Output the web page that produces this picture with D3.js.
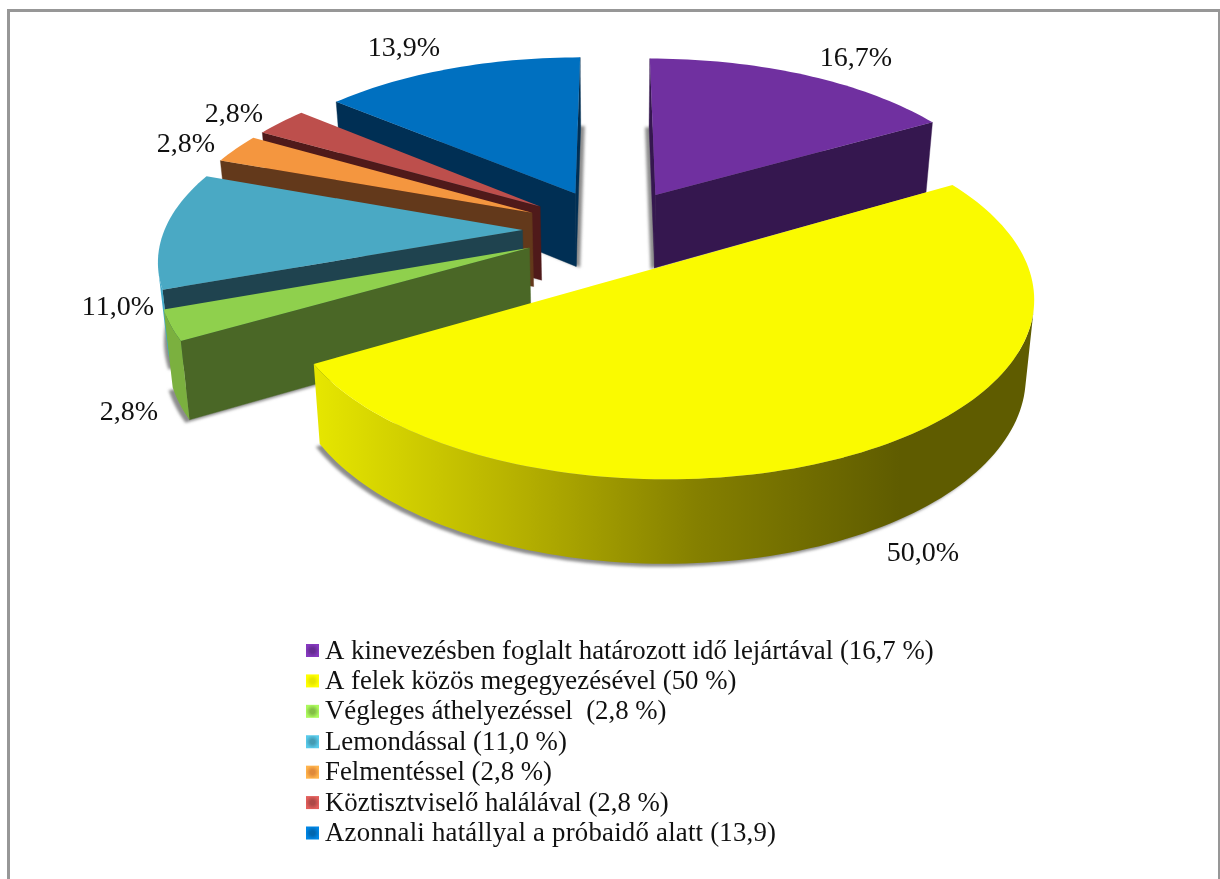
<!DOCTYPE html>
<html><head><meta charset="utf-8">
<script src="https://cdnjs.cloudflare.com/ajax/libs/d3/7.8.5/d3.min.js"></script>
<style>html,body{margin:0;padding:0;background:#fff;overflow:hidden}svg{display:block}
text{font-family:'Liberation Serif','Times New Roman',serif;fill:#111;font-kerning:none}</style>
</head><body><svg id="c" width="1220" height="879"></svg>
<script>
// ---- data ----
const categories = [
  "A kinevezésben foglalt határozott idő lejártával (16,7 %)",
  "A felek közös megegyezésével (50 %)",
  "Végleges áthelyezéssel  (2,8 %)",
  "Lemondással (11,0 %)",
  "Felmentéssel (2,8 %)",
  "Köztisztviselő halálával (2,8 %)",
  "Azonnali hatállyal a próbaidő alatt (13,9)"
];
const values = [16.7, 50, 2.8, 11.0, 2.8, 2.8, 13.9];
const valueLabels = ["16,7%", "50,0%", "2,8%", "11,0%", "2,8%", "2,8%", "13,9%"];
// ---- styles ----
const topColors  = ["#7030a0", "#fafa00", "#8fd04d", "#4aa9c4", "#f4963f", "#bd4f4c", "#0070c0"];
const wallColors = ["#35174f", "#787800", "#4a6726", "#1f434f", "#63391b", "#4f1a1a", "#002f54"];
const arcColors  = ["#35174f", "url(#yellowSide)", "#7bb03f", "#3fa9c9", "#c77a38", "#8f3b39", "#00558f"];
const drawOrder  = [6, 0, 5, 4, 3, 2, 1];
// ---- layout ----
const cx = 612, cy = 230, Rx = 358, Ry = 167;
const explode = 0.25, persp = 0.152;
const depthY = 74.5, depthScaleX = 0.98, depthScaleY = 1.04;
const labelAnchor = [[856,66],[923,561],[129,420],[118,315],[186,152],[234,122],[404,56]];
const shadowShift = [[-4,1],[-4,3],[-4,3],[-3,3],[0,0],[0,0],[4,1]];
const legendSpacing = [0,0,0,0,0,0,0.22];

const svg = d3.select("#c");
const defs = svg.append("defs");
const x = d3.scaleLinear().domain([-1,1]).range([cx-Rx,cx+Rx]);
const y = d3.scaleLinear().domain([-1,1]).range([cy-Ry,cy+Ry]);
const xb = d3.scaleLinear().domain([-1,1]).range([cx-Rx*depthScaleX,cx+Rx*depthScaleX]);
const yb = d3.scaleLinear().domain([-1,1]).range([cy+depthY-Ry*depthScaleY,cy+depthY+Ry*depthScaleY]);

const g1 = defs.append("linearGradient").attr("id","yellowSide").attr("gradientUnits","userSpaceOnUse")
  .attr("x1",316).attr("x2",900).attr("y1",0).attr("y2",0);
[[0,"#e6e600"],[0.35,"#b5b000"],[0.65,"#858000"],[1,"#5f5c00"]].forEach(s=>g1.append("stop").attr("offset",s[0]).attr("stop-color",s[1]));
defs.append("filter").attr("id","blur").attr("x","-10%").attr("y","-10%").attr("width","120%").attr("height","120%")
  .append("feGaussianBlur").attr("stdDeviation",1.8);
categories.forEach((c,i)=>{
  const g=defs.append("radialGradient").attr("id","mk"+i);
  g.append("stop").attr("offset","0.35").attr("stop-color",d3.color(topColors[i]).darker(0.25).formatHex());
  g.append("stop").attr("offset","1").attr("stop-color",d3.color(topColors[i]).brighter(0.5).formatHex());
});

// frame
svg.append("rect").attr("x",8.5).attr("y",10.5).attr("width",1211).attr("height",900)
  .attr("fill","#fff").attr("stroke","#979797").attr("stroke-width",3);

const pie = d3.pie().sort(null).startAngle(0).endAngle(2*Math.PI);
const arcs = pie(values);
const line = d3.line();

function pt(a, r, mid){
  const u = explode*Math.sin(mid) + r*Math.sin(a);
  const v = -explode*Math.cos(mid) - r*Math.cos(a);
  const w = 1 - persp*v;
  return {u:u/w, v:v/w};
}
const T = p=>[x(p.u),y(p.v)];
const B = p=>[xb(p.u),yb(p.v)];
const facing = q=>d3.polygonArea(q)>0;

function sliceGeom(d){
  const mid=(d.startAngle+d.endAngle)/2;
  const n=Math.max(4,Math.ceil((d.endAngle-d.startAngle)*40));
  const angles=d3.range(n+1).map(k=>d.startAngle+(d.endAngle-d.startAngle)*k/n);
  const rim=angles.map(a=>pt(a,1,mid));
  const apex=pt(0,0,mid);
  return {rim,apex};
}

const geoms=arcs.map(sliceGeom);
// shadows
const shadowG=svg.append("g").attr("filter","url(#blur)");
drawOrder.forEach(i=>{
  const {rim,apex}=geoms[i];
  shadowG.append("path").attr("d",line([apex,...rim].map(B))+"Z")
    .attr("transform",`translate(${shadowShift[i]})`).attr("fill","#8c8c8c");
});
// slices
drawOrder.forEach(i=>{
  const {rim,apex}=geoms[i];
  const g=svg.append("g");
  const cut=(a,b)=>{
    const q=[T(a),T(b),B(b),B(a)];
    if(facing(q)) g.append("path").attr("d",line(q)+"Z").attr("fill",wallColors[i]).attr("stroke",wallColors[i]).attr("stroke-width",0.4);
  };
  cut(apex,rim[0]);
  cut(rim[rim.length-1],apex);
  const vis=d3.range(rim.length-1).filter(k=>facing([T(rim[k]),T(rim[k+1]),B(rim[k+1]),B(rim[k])]));
  if(vis.length){
    const seg=rim.slice(vis[0],vis[vis.length-1]+2);
    g.append("path").attr("d",line([...seg.map(T),...seg.slice().reverse().map(B)])+"Z").attr("fill",arcColors[i]);
  }
  g.append("path").attr("d",line([apex,...rim].map(T))+"Z").attr("fill",topColors[i]);
});
// value labels
svg.append("g").selectAll("text").data(valueLabels).join("text")
  .attr("x",(d,i)=>labelAnchor[i][0]).attr("y",(d,i)=>labelAnchor[i][1])
  .attr("text-anchor","middle").attr("font-size",28).text(d=>d);
// legend
const row=d3.scaleLinear().domain([0,6]).range([650.5,833]);
const lg=svg.append("g");
lg.selectAll("rect").data(categories).join("rect")
  .attr("x",306).attr("y",(d,i)=>row(i)-6.5).attr("width",13).attr("height",13)
  .attr("fill",(d,i)=>`url(#mk${i})`);
lg.selectAll("text").data(categories).join("text")
  .attr("x",325).attr("y",(d,i)=>row(i)+8).attr("font-size",26.8).attr("xml:space","preserve")
  .style("white-space","pre").style("letter-spacing",(d,i)=>legendSpacing[i]+"px").text(d=>d);
</script></body></html>
